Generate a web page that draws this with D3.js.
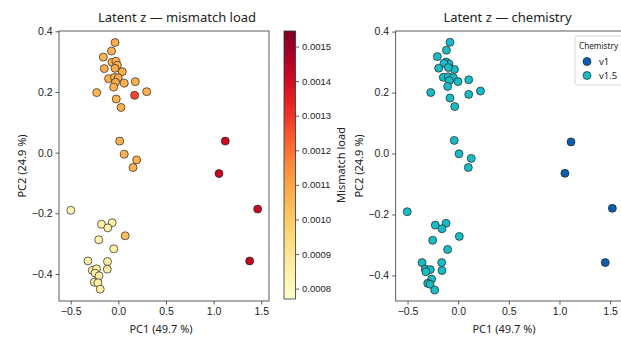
<!DOCTYPE html>
<html>
<head>
<meta charset="utf-8">
<script src="https://cdn.jsdelivr.net/npm/d3@7"></script>
<style>
  body { margin: 0; background: #fff; }
  svg { display: block; font-family: "Noto Sans", "Open Sans", sans-serif; }
  .tick text { fill: #222; }
</style>
</head>
<body>
<svg id="chart" width="621" height="338"></svg>
<script>
// ---- data ----
// left panel: PC1 / PC2 / mismatch load per sample
const loadPC1 = [
  -0.035, -0.072, -0.158, -0.067, -0.025, -0.011, -0.148, -0.035, 0.041, -0.103, -0.041,
  -0.001, -0.030, 0.062, 0.178, -0.049, -0.227, 0.171, 0.297, -0.022, 0.028,
  0.014, 0.062, 0.192, 0.154,
  1.122, 1.056, 1.462, 1.378,
  -0.499, -0.177, -0.065, -0.111, 0.072, -0.206, -0.048, -0.319, -0.114, -0.274,
  -0.229, -0.116, -0.245, -0.203, -0.253, -0.214, -0.190
];
const loadPC2 = [
  0.363, 0.335, 0.315, 0.298, 0.301, 0.288, 0.277, 0.278, 0.267, 0.244, 0.248,
  0.247, 0.232, 0.229, 0.234, 0.216, 0.198, 0.189, 0.201, 0.177, 0.149,
  0.038, -0.005, -0.024, -0.049,
  0.038, -0.069, -0.186, -0.357,
  -0.190, -0.236, -0.231, -0.248, -0.274, -0.287, -0.317, -0.357, -0.359, -0.388,
  -0.383, -0.384, -0.397, -0.406, -0.427, -0.429, -0.450
];
const mismatchLoad = [
  0.00108, 0.00107, 0.00106, 0.00107, 0.00108, 0.00106, 0.00107, 0.00108, 0.00107, 0.00106, 0.00107,
  0.00108, 0.00107, 0.00106, 0.00107, 0.00106, 0.00105, 0.00127, 0.00107, 0.00106, 0.00107,
  0.00106, 0.00107, 0.00107, 0.00106,
  0.00142, 0.00143, 0.00142, 0.00143,
  0.00082, 0.00086, 0.00085, 0.00086, 0.00103, 0.00085, 0.00086, 0.00085, 0.00086, 0.00085,
  0.00084, 0.00086, 0.00085, 0.00086, 0.00085, 0.00084, 0.00086
];

// right panel: PC1 / PC2 / chemistry per sample
const chemPC1 = [
  -0.081, -0.116, -0.206, -0.120, -0.091, -0.140, -0.193, -0.037, -0.098, -0.147, -0.098,
  -0.048, -0.088, -0.002, 0.104, -0.104, -0.271, 0.104, 0.220, -0.081, -0.034,
  -0.039, 0.008, 0.129, 0.100,
  1.114, 1.054, 1.522, 1.452,
  -0.503, -0.226, -0.120, -0.160, 0.011, -0.252, -0.104, -0.357, -0.163, -0.325,
  -0.275, -0.160, -0.318, -0.262, -0.301, -0.278, -0.232
];
const chemPC2 = [
  0.365, 0.339, 0.318, 0.300, 0.294, 0.296, 0.280, 0.276, 0.282, 0.250, 0.252,
  0.249, 0.239, 0.236, 0.242, 0.220, 0.200, 0.194, 0.205, 0.182, 0.154,
  0.043, -0.001, -0.016, -0.046,
  0.038, -0.065, -0.180, -0.358,
  -0.191, -0.235, -0.229, -0.247, -0.272, -0.285, -0.315, -0.358, -0.358, -0.379,
  -0.381, -0.384, -0.388, -0.412, -0.426, -0.429, -0.448
];
const chemistry = loadPC1.map((d, i) => (i >= 25 && i <= 28) ? "v1" : "v1.5");
const chemLevels = ["v1", "v1.5"];
const chemColors = ["#0d5cae", "#17bcc6"];

const xTicks = [-0.5, 0.0, 0.5, 1.0, 1.5];
const yTicks = [-0.4, -0.2, 0.0, 0.2, 0.4];
const cbarTicks = [0.0008, 0.0009, 0.0010, 0.0011, 0.0012, 0.0013, 0.0014, 0.0015];
const loadDomain = [0.00077, 0.001545];

const svg = d3.select("#chart");
const ink = "#222";
const fmt = d => d3.format(".1f")(d).replace("-", "\u2212");

function drawAxes(x, y, p) {
  const g = svg.append("g");

  g.append("g")
    .attr("transform", "translate(0," + p.bottom + ")")
    .call(d3.axisBottom(x).tickValues(xTicks).tickFormat(fmt).tickSize(3.5).tickPadding(3))
    .call(a => a.select(".domain").remove());

  g.append("g")
    .attr("transform", "translate(" + p.left + ",0)")
    .call(d3.axisLeft(y).tickValues(yTicks).tickFormat(fmt).tickSize(3.5).tickPadding(3))
    .call(a => a.select(".domain").remove());

  g.selectAll(".tick text").style("font-size", "10.5px");
  g.selectAll(".tick line").attr("stroke", "#333").attr("stroke-width", 0.8);

  g.append("rect")
    .attr("x", p.left).attr("y", p.top)
    .attr("width", p.right - p.left).attr("height", p.bottom - p.top)
    .attr("fill", "none").attr("stroke", "#333").attr("stroke-width", 0.8);

  g.append("text")
    .attr("x", p.titleX).attr("y", 22)
    .attr("text-anchor", "middle")
    .style("font-size", "13px").attr("fill", ink)
    .text(p.title);

  g.append("text")
    .attr("x", p.xLabelX).attr("y", 333)
    .attr("text-anchor", "middle")
    .style("font-size", "11px").attr("fill", ink)
    .text("PC1 (49.7 %)");

  g.append("text")
    .attr("transform", "translate(" + p.yLabelX + "," + ((p.top + p.bottom) / 2) + ")rotate(-90)")
    .attr("text-anchor", "middle")
    .style("font-size", "11px").attr("fill", ink)
    .text("PC2 (24.9 %)");
  return g;
}

// ---- left panel: mismatch load ----
const lx = d3.scaleLinear().domain([-0.623, 1.581]).range([59, 269]);
const ly = d3.scaleLinear().domain([-0.489, 0.401]).range([301, 31]);
const color = d3.scaleSequential(d3.interpolateYlOrRd).domain(loadDomain);

drawAxes(lx, ly, {
  top: 31, bottom: 301, left: 59, right: 269,
  title: "Latent z \u2014 mismatch load", titleX: 177, xLabelX: 161, yLabelX: 26
});

svg.append("g").selectAll("circle")
  .data(loadPC1.map((v, i) => ({ x: v, y: loadPC2[i], c: mismatchLoad[i] })))
  .join("circle")
  .attr("cx", d => lx(d.x))
  .attr("cy", d => ly(d.y))
  .attr("r", 4)
  .attr("fill", d => color(d.c))
  .attr("stroke", "#222")
  .attr("stroke-width", 0.7);

// colorbar
const cbX = 284, cbW = 11.5, cbTop = 31, cbBottom = 299;
const cy = d3.scaleLinear().domain(loadDomain).range([cbBottom, cbTop]);
const grad = svg.append("defs").append("linearGradient")
  .attr("id", "ylorrd").attr("x1", 0).attr("y1", 1).attr("x2", 0).attr("y2", 0);
d3.range(0, 1.0001, 0.05).forEach(t => {
  grad.append("stop").attr("offset", t).attr("stop-color", d3.interpolateYlOrRd(t));
});
svg.append("rect")
  .attr("x", cbX).attr("y", cbTop).attr("width", cbW).attr("height", cbBottom - cbTop)
  .attr("fill", "url(#ylorrd)").attr("stroke", "#333").attr("stroke-width", 0.8);
const cbAxis = svg.append("g")
  .attr("transform", "translate(" + (cbX + cbW) + ",0)")
  .call(d3.axisRight(cy).tickValues(cbarTicks).tickFormat(d3.format(".4f")).tickSize(3.5).tickPadding(3));
cbAxis.select(".domain").remove();
cbAxis.selectAll(".tick text").style("font-size", "9.5px");
cbAxis.selectAll(".tick line").attr("stroke", "#333").attr("stroke-width", 0.8);
svg.append("text")
  .attr("transform", "translate(345,165)rotate(-90)")
  .attr("text-anchor", "middle")
  .style("font-size", "11px").attr("fill", ink)
  .text("Mismatch load");

// ---- right panel: chemistry ----
const rx = d3.scaleLinear().domain([-0.617, 1.72]).range([395.7, 632.4]);
const ry = d3.scaleLinear().domain([-0.484, 0.402]).range([301, 31]);
const chemColor = d3.scaleOrdinal().domain(chemLevels).range(chemColors);

drawAxes(rx, ry, {
  top: 31, bottom: 301, left: 395.7, right: 632.4,
  title: "Latent z \u2014 chemistry", titleX: 507.5, xLabelX: 504, yLabelX: 363
});

svg.append("g").selectAll("circle")
  .data(chemPC1.map((v, i) => ({ x: v, y: chemPC2[i], k: chemistry[i] })))
  .join("circle")
  .attr("cx", d => rx(d.x))
  .attr("cy", d => ry(d.y))
  .attr("r", 4)
  .attr("fill", d => chemColor(d.k))
  .attr("stroke", "#222")
  .attr("stroke-width", 0.7);

// legend
const leg = svg.append("g").attr("transform", "translate(575,36)");
leg.append("rect")
  .attr("width", 60).attr("height", 49).attr("rx", 3)
  .attr("fill", "#fff").attr("fill-opacity", 0.85)
  .attr("stroke", "#ccc").attr("stroke-width", 0.8);
leg.append("text")
  .attr("x", 4).attr("y", 13)
  .style("font-size", "8.2px").attr("fill", ink)
  .text("Chemistry");
chemLevels.forEach((k, i) => {
  leg.append("circle")
    .attr("cx", 12).attr("cy", 25.5 + i * 14).attr("r", 4)
    .attr("fill", chemColor(k)).attr("stroke", "#222").attr("stroke-width", 0.7);
  leg.append("text")
    .attr("x", 24).attr("y", 29 + i * 14)
    .style("font-size", "9.5px").attr("fill", ink)
    .text(k);
});
</script>
</body>
</html>
